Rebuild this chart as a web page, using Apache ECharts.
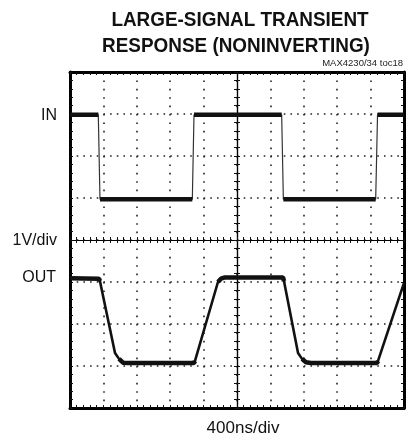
<!DOCTYPE html>
<html>
<head>
<meta charset="utf-8">
<script src="https://cdn.jsdelivr.net/npm/echarts@6/dist/echarts.min.js"></script>
<style>html,body{margin:0;padding:0;background:#fff}#c{width:417px;height:443px}</style>
</head>
<body>
<div id="c"></div>
<script>
// Time in ns (400 ns/div), voltage in divisions (1 V/div) relative to screen centre
const inTime = [0, 339, 359, 1465, 1485, 2535, 2555, 3661, 3683, 4000];
const inVolt = [2.98, 2.98, 0.97, 0.97, 2.98, 2.98, 0.97, 0.97, 2.98, 2.98];
const outTime = [0, 347, 359, 539, 587, 635, 695, 1485, 1497, 1772, 1808, 1856, 2551, 2563, 2731, 2779, 2826, 2886, 3677, 3689, 4000];
const outVolt = [-0.91, -0.92, -0.98, -2.69, -2.83, -2.92, -2.93, -2.93, -2.88, -1.0, -0.92, -0.89, -0.89, -0.98, -2.69, -2.83, -2.91, -2.93, -2.93, -2.88, -1.02];
const xTicksNs = [0, 4000, 400];     // min, max, interval
const yTicksDiv = [-4, 4, 1];

const FONT = '"Liberation Sans", Arial, sans-serif';

function pairs(t, v) { return t.map((x, i) => [x, v[i]]); }
function flats(t, v, tol) {
  const out = [];
  for (let i = 0; i < t.length - 1; i++) {
    if (Math.abs(v[i + 1] - v[i]) < tol) { out.push([t[i], v[i]], [t[i + 1], v[i + 1]]); }
    else out.push('-');
  }
  return out;
}

const chart = echarts.init(document.getElementById('c'), null, {renderer: 'canvas'});
const frameLine = {show: true, onZero: false, lineStyle: {color: '#000', width: 3}};
const tickIn = {show: true, inside: true, length: 3, lineStyle: {color: '#111', width: 1}};
const minor = {show: true, splitNumber: 5, length: 3, lineStyle: {color: '#111', width: 1}};
const xBase = {type: 'value', min: xTicksNs[0], max: xTicksNs[1], interval: xTicksNs[2], axisLabel: {show: false}, splitLine: {show: false}};
const yBase = {type: 'value', min: yTicksDiv[0], max: yTicksDiv[1], interval: yTicksDiv[2], axisLabel: {show: false}, splitLine: {show: false}};

chart.setOption({
  animation: false,
  grid: {left: 70, top: 72, width: 334, height: 336, containLabel: false},
  xAxis: [
    Object.assign({}, xBase, {position: 'bottom', axisLine: frameLine, axisTick: tickIn, minorTick: minor,
      splitLine: {show: true, lineStyle: {color: '#222', width: 1.6, type: [1.6, 6.8]}}}),
    Object.assign({}, xBase, {position: 'top', axisLine: frameLine, axisTick: tickIn, minorTick: minor}),
    Object.assign({}, xBase, {axisLine: {show: true, onZero: true, onZeroAxisIndex: 0, lineStyle: {color: '#000', width: 1.2}},
      axisTick: {show: true, inside: false, length: 3, lineStyle: {color: '#111'}}, minorTick: minor}),
    Object.assign({}, xBase, {axisLine: {show: true, onZero: true, onZeroAxisIndex: 0, lineStyle: {color: '#000', width: 1.2}},
      axisTick: {show: true, inside: true, length: 3, lineStyle: {color: '#111'}}, minorTick: minor}),
    {type: 'value', min: -(xTicksNs[1] - xTicksNs[0]) / 2, max: (xTicksNs[1] - xTicksNs[0]) / 2, show: false}
  ],
  yAxis: [
    Object.assign({}, yBase, {position: 'left', axisLine: frameLine, axisTick: tickIn, minorTick: minor,
      splitLine: {show: true, lineStyle: {color: '#222', width: 1.6, type: [1.6, 5.08]}}}),
    Object.assign({}, yBase, {position: 'right', axisLine: frameLine, axisTick: tickIn, minorTick: minor}),
    Object.assign({}, yBase, {axisLine: {show: true, onZero: true, onZeroAxisIndex: 4, lineStyle: {color: '#000', width: 1.2}},
      axisTick: {show: true, inside: false, length: 3, lineStyle: {color: '#111'}}, minorTick: minor}),
    Object.assign({}, yBase, {axisLine: {show: true, onZero: true, onZeroAxisIndex: 4, lineStyle: {color: '#000', width: 1.2}},
      axisTick: {show: true, inside: true, length: 3, lineStyle: {color: '#111'}}, minorTick: minor})
  ],
  series: [
    {name: 'IN', type: 'line', xAxisIndex: 0, yAxisIndex: 0, data: pairs(inTime, inVolt), showSymbol: false, silent: true,
      lineStyle: {color: '#333', width: 1.2}, z: 3},
    {name: 'IN flat', type: 'line', xAxisIndex: 0, yAxisIndex: 0, data: flats(inTime, inVolt, 0.05), showSymbol: false, silent: true,
      connectNulls: false, lineStyle: {color: '#111', width: 4.5}, z: 4},
    {name: 'OUT', type: 'line', xAxisIndex: 0, yAxisIndex: 0, data: pairs(outTime, outVolt), showSymbol: false, silent: true,
      lineStyle: {color: '#111', width: 2.6}, z: 3},
    {name: 'OUT flat', type: 'line', xAxisIndex: 0, yAxisIndex: 0, data: flats(outTime, outVolt, 0.1), showSymbol: false, silent: true,
      connectNulls: false, lineStyle: {color: '#111', width: 4.5}, z: 4}
  ],
  graphic: [
    {type: 'text', x: 240, y: 20, scaleX: 0.9, style: {text: 'LARGE-SIGNAL TRANSIENT', font: 'bold 21px ' + FONT, fill: '#111', align: 'center', verticalAlign: 'middle'}},
    {type: 'text', x: 236, y: 46, scaleX: 0.9, style: {text: 'RESPONSE (NONINVERTING)', font: 'bold 21px ' + FONT, fill: '#111', align: 'center', verticalAlign: 'middle'}},
    {type: 'text', x: 403, y: 63, style: {text: 'MAX4230/34 toc18', font: '9.5px ' + FONT, fill: '#222', align: 'right', verticalAlign: 'middle'}},
    {type: 'text', x: 57, y: 116, style: {text: 'IN', font: '16px ' + FONT, fill: '#111', align: 'right', verticalAlign: 'middle'}},
    {type: 'text', x: 57, y: 241, style: {text: '1V/div', font: '16px ' + FONT, fill: '#111', align: 'right', verticalAlign: 'middle'}},
    {type: 'text', x: 56, y: 278, style: {text: 'OUT', font: '16px ' + FONT, fill: '#111', align: 'right', verticalAlign: 'middle'}},
    {type: 'text', x: 243, y: 428, style: {text: '400ns/div', font: '17px ' + FONT, fill: '#111', align: 'center', verticalAlign: 'middle'}}
  ]
});
</script>
</body>
</html>
